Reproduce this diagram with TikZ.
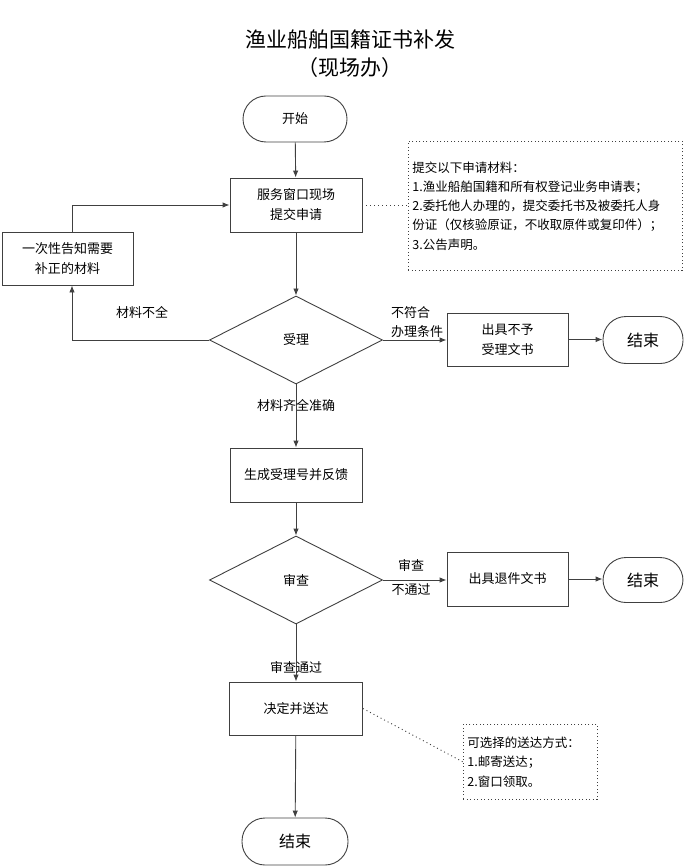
\documentclass[tikz,border=0pt]{standalone}
\usepackage{fontspec}
\setmainfont{Noto Sans CJK SC}
\usetikzlibrary{shapes.geometric,arrows.meta}
\definecolor{ln}{HTML}{404040}
\tikzset{
  base/.style={draw=ln,line width=0.9pt,align=center,font=\fontsize{13}{20}\selectfont,inner sep=0pt},
  proc/.style={base,rectangle,minimum width=132pt,minimum height=54pt},
  term/.style={base,rectangle,rounded corners=23pt,minimum width=104pt,minimum height=46pt},
  dec/.style={base,diamond,minimum width=173pt,minimum height=88pt},
  note/.style={draw=ln,line width=0.9pt,dash pattern=on 1pt off 2.5pt,align=left,inner xsep=4pt,inner ysep=0pt,font=\fontsize{12.5}{19.3}\selectfont},
  arr/.style={draw=ln,line width=0.9pt,-{Latex[length=7pt,width=5.5pt]}},
  con/.style={draw=ln,line width=0.9pt,dash pattern=on 1pt off 3pt},
  lbl/.style={font=\fontsize{13}{16}\selectfont,inner sep=0pt}
}
\begin{document}
\begin{tikzpicture}[x=1pt,y=-1pt]
\useasboundingbox (0,0) rectangle (683,866);
\node[font=\fontsize{21}{26}\selectfont] (t1) at (350,40) {渔业船舶国籍证书补发};
\node[font=\fontsize{21}{26}\selectfont] (t2) at (350,68) {（现场办）};

\node[term] (start) at (295,119) {开始};
\node[proc] (submit) at (296,205) {服务窗口现场\\提交申请};
\node[note,anchor=north west,minimum width=274pt,minimum height=129pt,text width=266pt] (n1) at (408,141) {提交以下申请材料：\\1.渔业船舶国籍和所有权登记业务申请表；\\2.委托他人办理的，提交委托书及被委托人身\\份证（仅核验原证，不收取原件或复印件）；\\3.公告声明。};
\node[proc,minimum width=131pt,minimum height=53pt] (left) at (67.5,258.5) {一次性告知需要\\补正的材料};
\node[dec] (acc) at (296,340) {受理};
\node[proc,minimum width=121pt,minimum height=53pt] (rej) at (507.5,339.5) {出具不予\\受理文书};
\node[term,minimum width=80pt,minimum height=47pt,font=\fontsize{16}{20}\selectfont] (end1) at (643,340) {结束};
\node[proc] (gen) at (296,475) {生成受理号并反馈};
\node[dec] (rev) at (296,580) {审查};
\node[proc,minimum width=121pt,minimum height=54pt] (ret) at (507.5,579) {出具退件文书};
\node[term,minimum width=80pt,minimum height=45pt,font=\fontsize{16}{20}\selectfont] (end2) at (643,580) {结束};
\node[proc,minimum width=133pt,minimum height=53pt] (dec) at (296,708.5) {决定并送达};
\node[note,anchor=north west,minimum width=134pt,minimum height=75pt,text width=126pt] (n2) at (463,724) {可选择的送达方式：\\1.邮寄送达；\\2.窗口领取。};
\node[term,minimum width=106pt,minimum height=47pt,font=\fontsize{16}{20}\selectfont] (end3) at (295,841.5) {结束};

\draw[arr] (start) -- (submit);
\draw[con] (submit.east) -- (n1.west |- submit.east);
\draw[arr] (submit) -- (acc);
\draw[arr] (acc.west) -| ([xshift=4.5pt]left.south);
\draw[arr] ([xshift=4.5pt]left.north) |- (submit.west);
\draw[arr] (acc.east) -- (rej.west |- acc.east);
\draw[arr] (rej.east) -- (end1.west |- rej.east);
\draw[arr] (acc) -- (gen);
\draw[arr] (gen) -- (rev);
\draw[arr] (rev.east) -- (ret.west |- rev.east);
\draw[arr] (ret.east) -- (end2.west |- ret.east);
\draw[arr] (rev) -- (dec);
\draw[con] (dec.east) -- (n2.west);
\draw[arr] (dec) -- (end3);

\node[lbl] (l1) at (142,312) {材料不全};
\node[lbl,anchor=west] (l2) at (391,313) {不符合};
\node[lbl,anchor=west] (l3) at (391,332) {办理条件};
\node[lbl] (l4) at (296,405) {材料齐全准确};
\node[lbl] (l5) at (411,565) {审查};
\node[lbl] (l6) at (411,590) {不通过};
\node[lbl] (l7) at (296,667) {审查通过};
\end{tikzpicture}
\end{document}
